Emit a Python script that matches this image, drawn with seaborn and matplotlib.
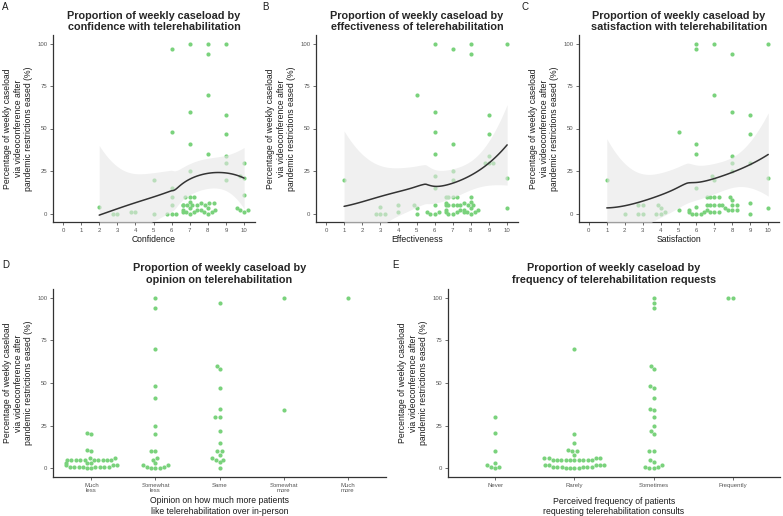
import numpy as np
import pandas as pd
import matplotlib
matplotlib.use("Agg")
import matplotlib.pyplot as plt
import seaborn as sns

# Data (percentage of weekly caseload by videoconference)
conf_levels = [2, 3, 4, 5, 6, 7, 8, 9, 10]
conf_values = [[4], [0, 0], [1, 1], [20, 0],
               [97, 48, 15, 10, 5, 0, 0, 0],
               [100, 60, 41, 25, 10, 10, 10, 7, 5, 5, 5, 5, 5, 3, 2, 2, 1, 1, 1, 0],
               [100, 94, 70, 35, 6, 6, 6, 5, 3, 2, 2, 1, 1, 0],
               [100, 58, 47, 34, 30, 20],
               [30, 22, 21, 11, 3, 2, 2, 1]]

eff_levels = [1, 3, 4, 5, 6, 7, 8, 9, 10]
eff_values = [[20], [4, 0, 0, 0], [5, 1], [70, 5, 3, 0],
              [100, 60, 48, 35, 22, 15, 5, 1, 1, 0, 0],
              [97, 41, 25, 20, 10, 10, 10, 10, 6, 5, 5, 5, 5, 5, 2, 2, 1, 1, 0, 0],
              [100, 94, 10, 7, 6, 5, 5, 3, 2, 2, 1, 1, 1, 0],
              [58, 47, 34, 30, 30, 30],
              [100, 21, 3]]

sat_levels = [1, 2, 3, 4, 5, 6, 7, 8, 9, 10]
sat_values = [[20], [0], [5, 5, 0, 0], [5, 3, 1, 0, 0], [48, 2],
              [100, 97, 41, 35, 15, 4, 2, 1, 1, 0, 0, 0],
              [100, 70, 22, 20, 10, 10, 10, 10, 5, 5, 5, 5, 5, 2, 1, 1, 1],
              [94, 60, 34, 30, 25, 10, 8, 5, 5, 3, 2, 2, 2],
              [58, 47, 30, 6, 0],
              [100, 21, 3]]

opinion_levels = ["Much\nless", "Somewhat\nless", "Same", "Somewhat\nmore", "Much\nmore"]
opinion_values = [[21, 20, 11, 10, 6, 6, 5, 5, 5, 5, 5, 5, 5, 5, 5, 5, 3, 3, 3, 2, 2, 2,
                   1, 1, 1, 1, 1, 1, 1, 1, 0, 0],
                  [100, 94, 70, 48, 41, 25, 20, 10, 10, 6, 5, 3, 2, 2, 1, 1, 0, 0, 0],
                  [97, 60, 58, 47, 35, 30, 30, 22, 15, 10, 10, 8, 6, 5, 5, 4, 0],
                  [100, 34],
                  [100]]

freq_levels = ["Never", "Rarely", "Sometimes", "Frequently"]
freq_values = [[30, 21, 10, 3, 2, 1, 1, 0],
               [70, 20, 15, 11, 10, 10, 8, 6, 6, 6, 6, 5, 5, 5, 5, 5, 5, 5, 5, 5, 5,
                2, 2, 2, 2, 2, 1, 1, 1, 1, 1, 1, 0, 0, 0, 0],
               [100, 97, 94, 60, 58, 48, 47, 41, 35, 34, 30, 25, 22, 20, 10, 10, 5, 4,
                2, 1, 1, 0, 0],
               [100, 100]]

ylab_txt = "Percentage of weekly caseload\nvia videoconference after\npandemic restrictions eased (%)"
green = "#7AD27C"

sns.set_theme(style="ticks")
plt.rcParams["font.family"] = ["Liberation Sans", "DejaVu Sans"]


def long_df(levels, values):
    rows = [(lv, v) for lv, vals in zip(levels, values) for v in vals]
    return pd.DataFrame(rows, columns=["x", "y"])


# Local quadratic smoother (tricube weights over the whole range) with a 95% band
def smooth(x, y, grid):
    x = np.asarray(x, float)
    y = np.asarray(y, float)
    n = len(x)

    def row(x0):
        d = np.abs(x - x0)
        h = d.max()
        w = (1 - np.clip(d / h, 0, 1) ** 3) ** 3
        X = np.column_stack([np.ones(n), x - x0, (x - x0) ** 2])
        XtW = X.T * w
        return (np.linalg.pinv(XtW @ X) @ XtW)[0]

    L = np.array([row(v) for v in x])
    res = y - L @ y
    M = (np.eye(n) - L).T @ (np.eye(n) - L)
    s = np.sqrt(res @ res / np.trace(M))
    Lg = np.array([row(v) for v in grid])
    fit = Lg @ y
    se = s * np.sqrt((Lg ** 2).sum(1))
    return fit, fit - 1.99 * se, fit + 1.99 * se


def style_axes(ax, title_txt, xlab_txt, title_pad=3.5, xlab_pad=2):
    ax.set_title(title_txt, fontsize=7.8, fontweight="bold", pad=title_pad)
    ax.set_xlabel(xlab_txt, fontsize=6.2, color="#1a1a1a", labelpad=xlab_pad)
    ax.set_ylabel(ylab_txt, fontsize=6.2, color="#1a1a1a", labelpad=3)
    ax.set_ylim(-5, 105)
    ax.set_yticks([0, 25, 50, 75, 100])
    ax.tick_params(labelsize=4.3, labelcolor="#555555", color="#555555",
                   length=2.5, width=0.6, pad=1.5)
    for side in ["left", "bottom"]:
        ax.spines[side].set_color("#333333")
        ax.spines[side].set_linewidth(0.9)
    sns.despine(ax=ax)


def score_panel(ax, levels, values, title_txt, xlab_txt):
    df = long_df(levels, values)
    sns.swarmplot(data=df, x="x", y="y", native_scale=True, color=green,
                  size=3, linewidth=0, ax=ax, zorder=2)
    grid = np.linspace(df["x"].min(), df["x"].max(), 120)
    fit, lo, hi = smooth(df["x"], df["y"], grid)
    ax.fill_between(grid, lo, hi, color="#e6e6e6", alpha=0.6, lw=0, zorder=3)
    ax.plot(grid, fit, color="#333333", lw=1.1, zorder=4)
    ax.set_xlim(-0.55, 10.6)
    ax.set_xticks(range(11))
    style_axes(ax, title_txt, xlab_txt)


def cat_panel(ax, levels, values, title_txt, xlab_txt, xlab_pad):
    df = long_df(levels, values)
    sns.swarmplot(data=df, x="x", y="y", order=levels, color=green,
                  size=3, linewidth=0, ax=ax)
    ax.set_xlim(-0.6, len(levels) - 0.4)
    style_axes(ax, title_txt, xlab_txt, title_pad=4.5, xlab_pad=xlab_pad)


W, H = 783, 516
fig = plt.figure(figsize=(W / 100, H / 100), dpi=100)


def px_axes(l, t, r, b):
    return fig.add_axes([l / W, 1 - b / H, (r - l) / W, (b - t) / H])


axA = px_axes(53, 35, 255, 222)
axB = px_axes(316, 35, 518, 222)
axC = px_axes(579, 35, 779, 222)
axD = px_axes(53, 289, 386, 477)
axE = px_axes(448, 289, 780, 477)

score_panel(axA, conf_levels, conf_values,
            "Proportion of weekly caseload by\nconfidence with telerehabilitation", "Confidence")
score_panel(axB, eff_levels, eff_values,
            "Proportion of weekly caseload by\neffectiveness of telerehabilitation", "Effectiveness")
score_panel(axC, sat_levels, sat_values,
            "Proportion of weekly caseload by\nsatisfaction with telerehabilitation", "Satisfaction")
cat_panel(axD, opinion_levels, opinion_values,
          "Proportion of weekly caseload by\nopinion on telerehabilitation",
          "Opinion on how much more patients\nlike telerehabilitation over in-person", 2)
cat_panel(axE, freq_levels, freq_values,
          "Proportion of weekly caseload by\nfrequency of telerehabilitation requests",
          "Perceived frequency of patients\nrequesting telerehabilitation consults", 6.5)

for letter, (xp, yp) in zip("ABCDE", [(2, 2), (262, 2), (522, 2), (2, 260), (392, 260)]):
    fig.text(xp / W, 1 - yp / H, letter, fontsize=7, va="top", ha="left", color="#1a1a1a")

fig.savefig("out.png", dpi=100)
